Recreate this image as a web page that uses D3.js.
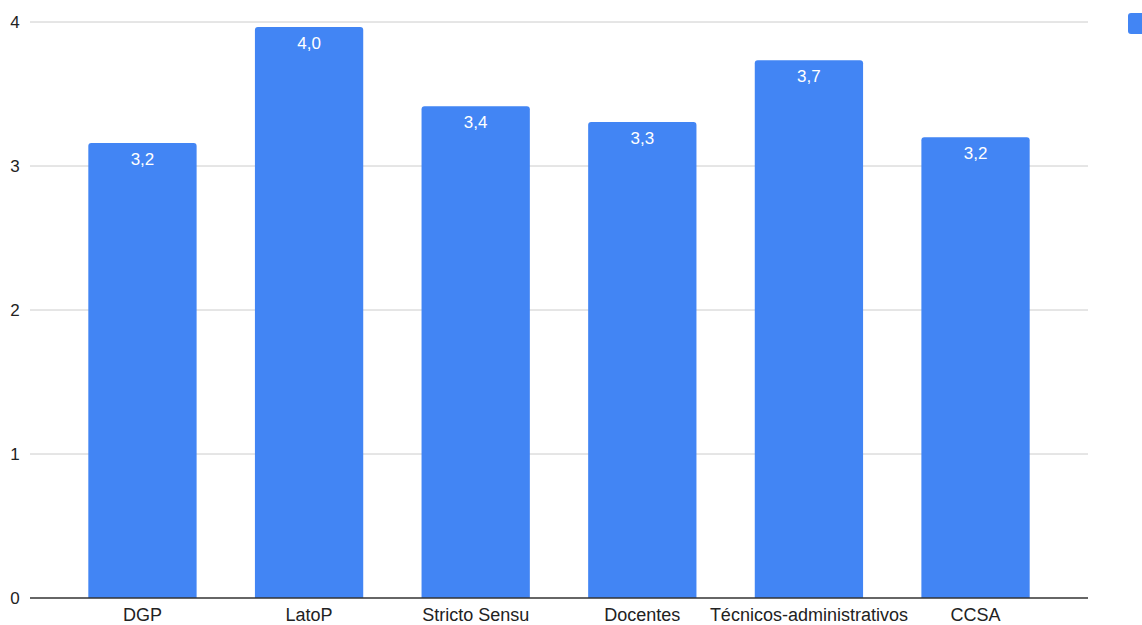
<!DOCTYPE html>
<html>
<head>
<meta charset="utf-8">
<script src="https://cdn.jsdelivr.net/npm/d3@7"></script>
<style>
  html, body { margin: 0; padding: 0; background: #fff; }
  svg { display: block; font-family: "Liberation Sans", Arial, sans-serif; }
</style>
</head>
<body>
<svg id="chart" width="1142" height="625"></svg>
<script>
// Average score per group
const categories = ["DGP", "LatoP", "Stricto Sensu", "Docentes", "Técnicos-administrativos", "CCSA"];
const values = [3.16, 3.965, 3.415, 3.305, 3.735, 3.2];
const yTicks = [0, 1, 2, 3, 4];

const svg = d3.select("#chart");
const plotLeft = 30, plotRight = 1088, plotTop = 22, plotBottom = 598;

const x = d3.scaleBand()
  .domain(categories)
  .range([plotLeft, plotRight])
  .paddingInner(0.35)
  .paddingOuter(0.35);

const y = d3.scaleLinear().domain([0, 4]).range([plotBottom, plotTop]);

const fmt = v => d3.format(".1f")(v).replace(".", ",");

// Horizontal gridlines
svg.append("g")
  .selectAll("line")
  .data(yTicks.filter(t => t > 0))
  .join("line")
  .attr("x1", plotLeft).attr("x2", plotRight)
  .attr("y1", d => y(d)).attr("y2", d => y(d))
  .attr("stroke", "#cccccc")
  .attr("stroke-width", 1);

// Y tick labels
svg.append("g")
  .selectAll("text")
  .data(yTicks)
  .join("text")
  .attr("x", 15)
  .attr("y", d => y(d))
  .attr("dy", "0.35em")
  .attr("text-anchor", "middle")
  .attr("font-size", 17)
  .attr("fill", "#222")
  .text(d => d);

// Bars with rounded top corners
const r = 3;
function barPath(x0, w, yTop, yBase) {
  return `M${x0},${yBase}V${yTop + r}Q${x0},${yTop} ${x0 + r},${yTop}` +
         `H${x0 + w - r}Q${x0 + w},${yTop} ${x0 + w},${yTop + r}V${yBase}Z`;
}

const data = categories.map((c, i) => ({ c, v: values[i] }));

svg.append("g")
  .selectAll("path")
  .data(data)
  .join("path")
  .attr("d", d => barPath(x(d.c), x.bandwidth(), y(d.v), y(0)))
  .attr("fill", "#4285f4");

// Value labels inside bars
svg.append("g")
  .selectAll("text")
  .data(data)
  .join("text")
  .attr("x", d => x(d.c) + x.bandwidth() / 2)
  .attr("y", d => y(d.v) + 22)
  .attr("text-anchor", "middle")
  .attr("font-size", 17)
  .attr("fill", "#ffffff")
  .text(d => fmt(d.v));

// Baseline
svg.append("line")
  .attr("x1", plotLeft).attr("x2", plotRight)
  .attr("y1", y(0)).attr("y2", y(0))
  .attr("stroke", "#333")
  .attr("stroke-width", 1.5);

// Category labels
svg.append("g")
  .selectAll("text")
  .data(categories)
  .join("text")
  .attr("x", d => x(d) + x.bandwidth() / 2)
  .attr("y", 621)
  .attr("text-anchor", "middle")
  .attr("font-size", 18)
  .attr("fill", "#222")
  .text(d => d);

// Legend swatch
svg.append("rect")
  .attr("x", 1128).attr("y", 13)
  .attr("width", 22).attr("height", 21)
  .attr("rx", 3)
  .attr("fill", "#4285f4");
</script>
</body>
</html>
